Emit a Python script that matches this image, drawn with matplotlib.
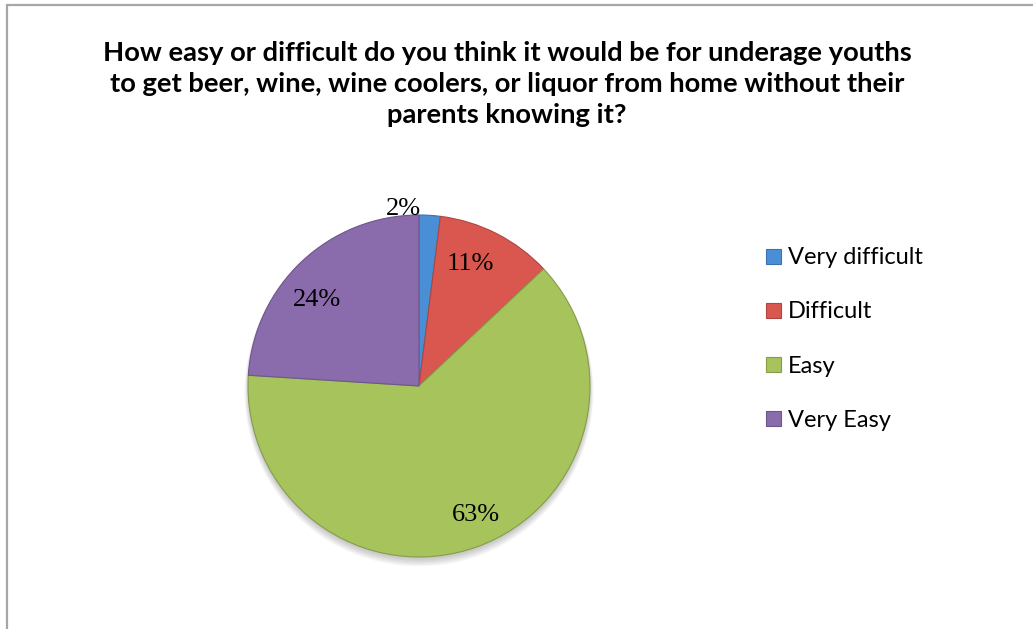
import numpy as np
import matplotlib
matplotlib.use("Agg")
import matplotlib.pyplot as plt
from matplotlib.patches import Rectangle, Circle

categories = ["Very difficult", "Difficult", "Easy", "Very Easy"]
shares = [2, 11, 63, 24]
colors = ["#4a8fd6", "#d9574f", "#a6c35c", "#8a6bab"]
title = ("How easy or difficult do you think it would be for underage youths\n"
         "to get beer, wine, wine coolers, or liquor from home without their\n"
         "parents knowing it?")

W, H = 1033, 629
fig = plt.figure(figsize=(W / 100, H / 100), dpi=100)

# chart area border (open on the right and bottom)
fig.patches.append(Rectangle((7 / W, -0.1), 1.2, 1 - 5 / H + 0.1,
                             transform=fig.transFigure, fill=False,
                             edgecolor="#a6a6a6", linewidth=1.6))

fig.text(507 / W, 1 - 84 / H, title, ha="center", va="center",
         fontsize=19.7, fontweight="bold", family="Lato",
         linespacing=1.36, color="#000000")

# pie axes: centre (419, 386), radius 171 px
cx, cy, r = 419, 386, 171
ax = fig.add_axes([(cx - r) / W, 1 - (cy + r) / H, 2 * r / W, 2 * r / H])

# soft drop shadow under the pie
for k in range(6):
    ax.add_patch(Circle((0, -0.015 - 0.004 * k), 1.0 + 0.004 * k,
                        color="black", alpha=0.035, lw=0, zorder=0))

wedges, texts, autotexts = ax.pie(
    shares, colors=colors, startangle=90, counterclock=False,
    autopct="%d%%", pctdistance=0.8, radius=1,
    textprops=dict(family="Liberation Serif", fontsize=19, color="#000000"))
ax.set_xlim(-1.05, 1.05)
ax.set_ylim(-1.05, 1.05)
ax.set_position([(cx - 1.05 * r) / W, 1 - (cy + 1.05 * r) / H,
                 2.1 * r / W, 2.1 * r / H])
ax.set_aspect("equal")
ax.axis("off")

# darker rim on each wedge for a bevelled look
for w in wedges:
    w.set_edgecolor(tuple(c * 0.8 for c in w.get_facecolor()[:3]))
    w.set_linewidth(0.8)
    w.set_zorder(2)

# labels sit a little ahead of the wedge middle
for w, t in zip(wedges[1:], autotexts[1:]):
    ang = np.deg2rad((w.theta1 + w.theta2) / 2 + 5)
    t.set_position((0.8 * np.cos(ang), 0.8 * np.sin(ang) - 0.03))

# tiny slice label sits just above the pie
w0 = wedges[0]
ang = np.deg2rad((w0.theta1 + w0.theta2) / 2)
autotexts[0].set_position((1.06 * np.cos(ang) - 0.16,
                           1.06 * np.sin(ang) - 0.02))
for t in autotexts:
    t.set_zorder(3)

leg = fig.legend(wedges, categories, loc="upper left",
                 bbox_to_anchor=(757 / W, 1 - 238 / H), frameon=False,
                 prop=dict(family="Lato", size=17), handlelength=0.6,
                 handleheight=0.6, handletextpad=0.3, labelspacing=1.4,
                 borderaxespad=0)

fig.savefig("out.png", dpi=100, facecolor="white")
